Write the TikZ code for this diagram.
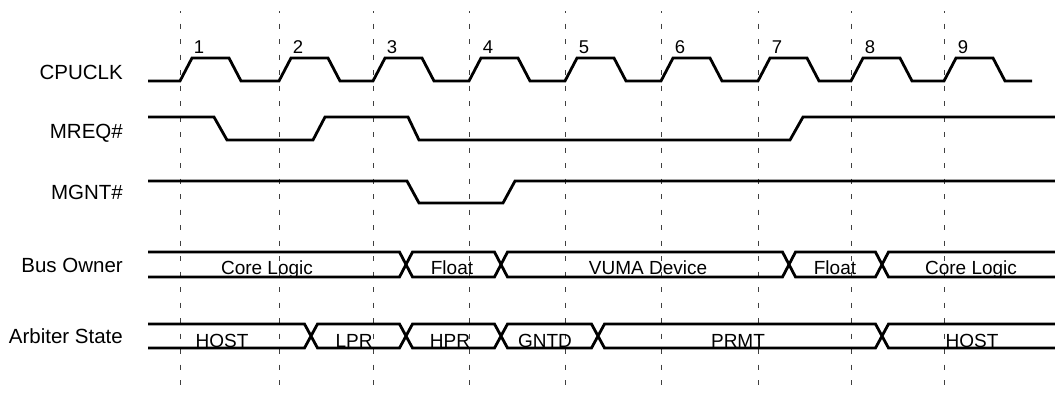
\documentclass[tikz,border=0pt]{standalone}
\usepackage{fontspec}
\setmainfont{Liberation Sans}
\usetikzlibrary{positioning}

\tikzset{
  sig/.style={line width=2.8pt},
  tick/.style={line width=1pt, black!75, dash pattern=on 5pt off 10.5pt, dash phase=3pt},
  rowname/.style={anchor=base east, inner sep=0pt, font=\fontsize{20.5}{24}\selectfont},
  num/.style={anchor=base, inner sep=0pt, font=\fontsize{18.5}{22}\selectfont},
  state/.style={anchor=base, inner sep=0pt, font=\fontsize{19}{23}\selectfont}
}

\begin{document}
\begin{tikzpicture}[x=1pt,y=-1pt]
        \useasboundingbox (0,0) rectangle (1055,392);

        % Taktgrenzen und Nummern
        \foreach \t [count=\i] in {180,279,373,469,565,661,758,851,944} {
            \draw[tick] (\t,11) -- (\t,390);
            \node[num] (num\i) at (\t+19,53) {\i};
        }

        % Signalnamen
        \node[rowname] (clk)   at (123,79)  {CPUCLK};
        \node[rowname] (mreq)  at (123,138) {MREQ\#};
        \node[rowname] (mgnt)  at (123,199) {MGNT\#};
        \node[rowname] (owner) at (123,272) {Bus Owner};
        \node[rowname] (arb)   at (123,343) {Arbiter State};

        % CPUCLK
        \draw[sig] (148,81) foreach \t in {180,279,373,469,565,661,758,851,944} {
            -- (\t,81) -- ++(12,-23) -- ++(37,0) -- ++(12,23) } -- (1032,81);

        % MREQ#
        \draw[sig] (148,117) -- (214,117) -- (227,140) -- (313,140) -- (325,117)
            -- (408,117) -- (419,140) -- (790,140) -- (803,117) -- (1055,117);

        % MGNT#
        \draw[sig] (148,181) -- (407,181) -- (419,203) -- (503,203) -- (515,181) -- (1055,181);

        % Bus Owner
        \draw[sig] (148,252) -- (399.5,252) -- (406,264.5) -- (399.5,277) -- (148,277);
        \foreach \a/\b in {406/501,501/789,789/882}
            \draw[sig] (\a,264.5) -- (\a+6.5,252) -- (\b-6.5,252) -- (\b,264.5)
                -- (\b-6.5,277) -- (\a+6.5,277) -- cycle;
        \draw[sig] (1055,252) -- (888.5,252) -- (882,264.5) -- (888.5,277) -- (1055,277);

        \node[state] (own1) at (267,274) {Core Logic};
        \node[state] (own2) at (452,274) {Float};
        \node[state] (own3) at (648,274) {VUMA Device};
        \node[state] (own4) at (835,274) {Float};
        \node[state] (own5) at (971,274) {Core Logic};

        % Arbiter State
        \draw[sig] (148,324) -- (304.5,324) -- (311,336) -- (304.5,348) -- (148,348);
        \foreach \a/\b in {311/406,406/501,501/598,598/882}
            \draw[sig] (\a,336) -- (\a+6.5,324) -- (\b-6.5,324) -- (\b,336)
                -- (\b-6.5,348) -- (\a+6.5,348) -- cycle;
        \draw[sig] (1055,324) -- (888.5,324) -- (882,336) -- (888.5,348) -- (1055,348);

        \node[state] (st1) at (222,347) {HOST};
        \node[state] (st2) at (354,347) {LPR};
        \node[state] (st3) at (450,347) {HPR};
        \node[state] (st4) at (545,347) {GNTD};
        \node[state] (st5) at (738,347) {PRMT};
        \node[state] (st6) at (972,347) {HOST};
    \end{tikzpicture}
\end{document}
